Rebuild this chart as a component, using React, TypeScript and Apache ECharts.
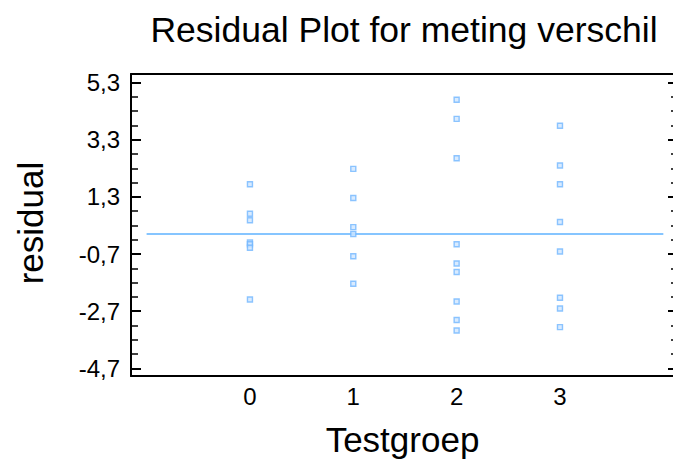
import React, { useEffect, useRef } from "react";
import * as echarts from "echarts";

const categories = [0, 1, 2, 3];
const group0 = [1.74, 0.71, 0.48, -0.3, -0.36, -0.48, -2.29];
const group1 = [2.28, 1.26, 0.24, 0.0, -0.78, -1.74];
const group2 = [4.7, 4.03, 2.65, -0.36, -1.03, -1.33, -2.36, -3.01, -3.38];
const group3 = [3.79, 2.4, 1.74, 0.42, -0.61, -2.23, -2.61, -3.26];
const majorTicks = [-4.7, -2.7, -0.7, 1.3, 3.3, 5.3];
const minorTicks = [
  -4.2, -3.7, -3.2, -2.2, -1.7, -1.2, -0.2, 0.3, 0.8, 1.8, 2.3, 2.8, 3.8, 4.3, 4.8,
];
const zeroLine = [
  [-1, 0],
  [4, 0],
];

const FONT = "'Liberation Sans', Arial, Helvetica, sans-serif";
const CHART_W = 690;

export default function App() {
  const ref = useRef<HTMLDivElement>(null);
  useEffect(() => {
    if (!ref.current) return;
    const chart = echarts.init(ref.current, undefined, { renderer: "svg" });
    const groups = [group0, group1, group2, group3];
    const points: number[][] = [];
    groups.forEach((g, i) => g.forEach((v) => points.push([categories[i], v])));
    const yMin = -4.97;
    const yMax = 5.6;
    const xMin = -1.151;
    const xMax = 4.142;
    const yBase = {
      type: "value" as const,
      min: yMin,
      max: yMax,
      splitLine: { show: false },
      axisLine: { show: false, onZero: false },
    };
    const tickAxis = (pos: "left" | "right", values: number[], len: number, w: number) => ({
      ...yBase,
      position: pos,
      axisTick: {
        show: true,
        inside: true,
        length: len,
        customValues: values,
        lineStyle: { color: "#000", width: w },
      },
      axisLabel: { show: false },
    });
    chart.setOption({
      animation: false,
      backgroundColor: "#fff",
      grid: {
        left: 131,
        right: CHART_W - 678,
        top: 74,
        bottom: 87,
        show: false,
      },
      xAxis: [
        {
          type: "value",
          position: "bottom",
          min: xMin,
          max: xMax,
          splitLine: { show: false },
          axisLine: { show: true, onZero: false, lineStyle: { color: "#000", width: 2 } },
          axisTick: { show: false },
          axisLabel: {
            customValues: categories,
            formatter: (v: number) => String(v),
            fontFamily: FONT,
            fontSize: 24,
            color: "#000",
            margin: 8,
          },
        },
        {
          type: "value",
          position: "top",
          min: xMin,
          max: xMax,
          splitLine: { show: false },
          axisLine: { show: true, onZero: false, lineStyle: { color: "#000", width: 2 } },
          axisTick: { show: false },
          axisLabel: { show: false },
        },
      ],
      yAxis: [
        {
          ...yBase,
          position: "left",
          axisLine: { show: true, onZero: false, lineStyle: { color: "#000", width: 2 } },
          axisTick: {
            show: true,
            inside: true,
            length: 10,
            customValues: majorTicks,
            lineStyle: { color: "#000", width: 2 },
          },
          axisLabel: {
            customValues: majorTicks,
            formatter: (v: number) => v.toFixed(1).replace(".", ","),
            fontFamily: FONT,
            fontSize: 24,
            color: "#000",
            margin: 11,
          },
        },
        tickAxis("left", minorTicks, 7, 1.5),
        tickAxis("right", majorTicks, 10, 2),
        tickAxis("right", minorTicks, 7, 1.5),
      ],
      graphic: [
        {
          type: "text",
          x: 404,
          y: 30,
          style: {
            text: "Residual Plot for meting verschil",
            fontFamily: FONT,
            fontSize: 35.5,
            fill: "#000",
            textAlign: "center",
            textVerticalAlign: "middle",
          },
        },
        {
          type: "text",
          x: 30,
          y: 223,
          rotation: Math.PI / 2,
          style: {
            text: "residual",
            fontFamily: FONT,
            fontSize: 35,
            fill: "#000",
            textAlign: "center",
            textVerticalAlign: "middle",
          },
        },
        {
          type: "text",
          x: 402.5,
          y: 439,
          style: {
            text: "Testgroep",
            fontFamily: FONT,
            fontSize: 35,
            fill: "#000",
            textAlign: "center",
            textVerticalAlign: "middle",
          },
        },
      ],
      series: [
        {
          type: "line",
          data: zeroLine,
          symbol: "none",
          lineStyle: { color: "#86c5ff", width: 1.8 },
          z: 1,
        },
        {
          type: "scatter",
          data: points,
          symbol: "rect",
          symbolSize: 5,
          itemStyle: { color: "#cfe6ff", borderColor: "#72b6ff", borderWidth: 1.4 },
          z: 2,
        },
      ],
    });
    return () => chart.dispose();
  }, []);
  return (
    <div
      style={{
        position: "fixed",
        left: 0,
        top: 0,
        width: 673,
        height: 463,
        overflow: "hidden",
        background: "#fff",
      }}
    >
      <div ref={ref} style={{ width: CHART_W, height: 463 }} />
    </div>
  );
}
